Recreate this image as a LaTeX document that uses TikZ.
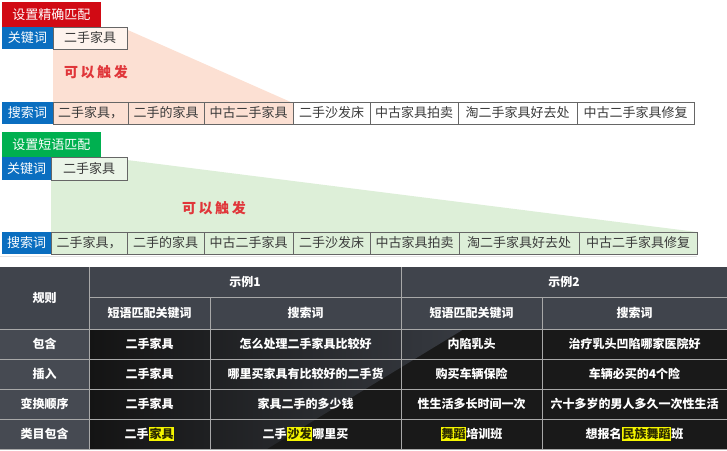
\documentclass[tikz,border=0pt]{standalone}
\usepackage{fontspec}
\newfontfamily\cjk{Noto Sans CJK SC}
\newfontfamily\cjkwide[LetterSpace=18]{Noto Sans CJK SC}
\definecolor{exactred}{HTML}{D10A14}
\definecolor{phrasegreen}{HTML}{00B050}
\definecolor{keyblue}{HTML}{0A6EC0}
\definecolor{exactpink}{HTML}{FCE0D3}
\definecolor{phraselight}{HTML}{DDEFD8}
\definecolor{cellline}{HTML}{666666}
\definecolor{celltext}{HTML}{3A3A3A}
\definecolor{triggerred}{HTML}{E0363A}
\definecolor{tablehead}{HTML}{40444C}
\definecolor{tableside}{HTML}{464A52}
\definecolor{tablebody}{HTML}{191919}
\definecolor{tableline}{HTML}{A8A8A8}
\definecolor{hlyellow}{HTML}{F5F500}
\definecolor{hltext}{HTML}{2A2A00}
\newcommand{\hlword}[1]{{\setlength{\fboxsep}{0.8pt}\colorbox{hlyellow}{\textcolor{hltext}{#1}}}}
\tikzset{
  tag/.style={inner sep=0pt, minimum height=22pt, text=white,
              font=\cjk\fontsize{13}{13}\selectfont},
  cell/.style={draw=cellline, line width=0.8pt, inner sep=0pt, minimum height=22pt,
               text=celltext, font=\cjk\fontsize{13}{13}\selectfont},
  trigger/.style={inner sep=0pt, text=triggerred, font=\cjkwide\bfseries\fontsize{14}{14}\selectfont},
  tabtext/.style={inner sep=0pt, text=white, font=\cjk\bfseries\fontsize{12}{12}\selectfont},
  gridline/.style={draw=tableline, line width=0.9pt}
}
\begin{document}
\begin{tikzpicture}[x=1pt, y=-1pt]
      \useasboundingbox (0,0) rectangle (727,450);
      \fill[exactpink] (53,27) -- (121,27) -- (293,103) -- (53,103) -- cycle;
      \node[tag, fill=exactred, minimum width=99pt, minimum height=25pt] (exact) at (51.5,14.5) {设置精确匹配};
      \node[tag, fill=keyblue, minimum width=51pt] (exactkey) at (27.5,38) {关键词};
      \node[cell, fill=exactpink!40!white, minimum width=74pt] (exactword) at (90,38) {二手家具};
      \node[trigger] (exacttrigger) at (96,72) {可以触发};
      \node[tag, fill=keyblue, minimum width=51pt] (exactsearch) at (27.5,113) {搜索词};
      \foreach \n/\cx/\w/\f/\t in {1/90.5/75/exactpink/二手家具，, 2/166/76/exactpink/二手的家具,
          3/248.5/89/exactpink/中古二手家具, 4/331.5/77/white/二手沙发床, 5/414/88/white/中古家具拍卖,
          6/517.5/119/white/淘二手家具好去处, 7/635.5/117/white/中古二手家具修复}
        \node[cell, fill=\f, minimum width=\w pt] (exact\n) at (\cx,113) {\t};

      \fill[phraselight] (51,157) -- (127,160) -- (697,232) -- (51,232) -- cycle;
      \node[tag, fill=phrasegreen, minimum width=99pt, minimum height=25pt] (phrase) at (51.5,144.5) {设置短语匹配};
      \node[tag, fill=keyblue, minimum width=49pt, minimum height=23pt] (phrasekey) at (26.5,168.5) {关键词};
      \node[cell, fill=phraselight!60!white, minimum width=76pt, minimum height=23pt] (phraseword) at (89,168.5) {二手家具};
      \node[trigger] (phrasetrigger) at (214,208) {可以触发};
      \node[tag, fill=keyblue, minimum width=49pt] (phrasesearch) at (26.5,243) {搜索词};
      \foreach \n/\cx/\w/\t in {1/89/76/二手家具，, 2/165.5/77/二手的家具, 3/248.5/89/中古二手家具,
          4/331.5/77/二手沙发床, 5/414.5/89/中古家具拍卖, 6/519/120/淘二手家具好去处, 7/638/118/中古二手家具修复}
        \node[cell, fill=phraselight, minimum width=\w pt] (phrase\n) at (\cx,243) {\t};

      \draw[gray!20, line width=0.6pt] (0,256) -- (697,256);
      \fill[tablehead] (0,267) rectangle (727,329);
      \fill[tableside] (0,329) rectangle (89,449);
      \fill[tablebody] (89,329) rectangle (727,449);
      \shade[left color=tablebody!80!black, right color=tablehead!85!black]
        (89,329) -- (464,329) -- (267,449) -- (89,449) -- cycle;
      \draw[gridline] (89,297) -- (727,297);
      \foreach \y in {329,359,389,419,449}
        \draw[gridline] (0,\y) -- (727,\y);
      \draw[gridline] (89,267) -- (89,449);
      \draw[gridline] (401,267) -- (401,449);
      \draw[gridline] (210,297) -- (210,449);
      \draw[gridline] (542,297) -- (542,449);

      \node[tabtext] (rule) at (44.5,298) {规则};
      \node[tabtext] (sample1) at (245,282) {示例1};
      \node[tabtext] (sample2) at (564,282) {示例2};
      \node[tabtext] (sample1key) at (149.5,313) {短语匹配关键词};
      \node[tabtext] (sample1query) at (305.5,313) {搜索词};
      \node[tabtext] (sample2key) at (471.5,313) {短语匹配关键词};
      \node[tabtext] (sample2query) at (634.5,313) {搜索词};
      \foreach \n/\y/\r/\a/\b/\c/\d in {
          1/344/包含/二手家具/怎么处理二手家具比较好/内陷乳头/治疗乳头凹陷哪家医院好,
          2/374/插入/二手家具/哪里买家具有比较好的二手货/购买车辆保险/车辆必买的4个险,
          3/404/变换顺序/二手家具/家具二手的多少钱/性生活多长时间一次/六十多岁的男人多久一次性生活,
          4/434/类目包含/{二手\hlword{家具}}/{二手\hlword{沙发}哪里买}/{\hlword{舞蹈}培训班}/{想报名\hlword{民族舞蹈}班}} {
        \node[tabtext] (rule\n) at (44.5,\y) {\r};
        \node[tabtext] (sample1key\n) at (149.5,\y) {\a};
        \node[tabtext] (sample1query\n) at (305.5,\y) {\b};
        \node[tabtext] (sample2key\n) at (471.5,\y) {\c};
        \node[tabtext] (sample2query\n) at (634.5,\y) {\d};
      }
    \end{tikzpicture}
\end{document}
